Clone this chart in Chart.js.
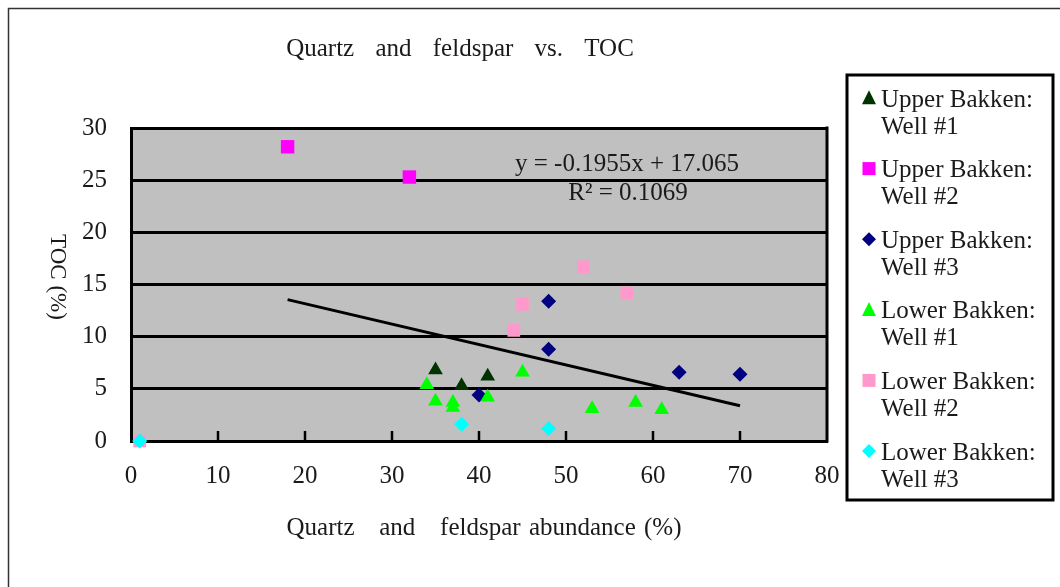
<!DOCTYPE html>
<html>
<head>
<meta charset="utf-8">
<title>Quartz and feldspar vs. TOC</title>
<script src="https://cdn.jsdelivr.net/npm/chart.js@4.4.1/dist/chart.umd.min.js"></script>
<style>
  html, body { margin: 0; padding: 0; background: #fff; }
  #wrap { width: 1060px; height: 587px; }
</style>
</head>
<body>
<div id="wrap"><canvas id="tocChart" width="1060" height="587"></canvas></div>
<script>
// values
const seriesNames = [
    'Upper Bakken: Well #1',
    'Upper Bakken: Well #2',
    'Upper Bakken: Well #3',
    'Lower Bakken: Well #1',
    'Lower Bakken: Well #2',
    'Lower Bakken: Well #3'
];

const ub1X = [35, 38, 41];
const ub1Y = [6.8, 5.3, 6.2];

const ub2X = [18, 32];
const ub2Y = [28.2, 25.3];

const ub3X = [48, 48, 40, 63, 70];
const ub3Y = [13.4, 8.8, 4.4, 6.6, 6.4];

const lb1X = [34, 35, 37, 37, 41, 45, 53, 58, 61];
const lb1Y = [5.4, 3.8, 3.7, 3.2, 4.2, 6.6, 3.1, 3.7, 3.0];

const lb2X = [52, 57, 45, 44, 1];
const lb2Y = [16.7, 14.2, 13.1, 10.6, 0];

const lb3X = [1, 38, 48];
const lb3Y = [0, 1.6, 1.2];

// linear trend line end points
const trendX = [18, 70];
const trendY = [13.55, 3.38];

const xTicks = [0, 10, 20, 30, 40, 50, 60, 70, 80];
const yTicks = [0, 5, 10, 15, 20, 25, 30];

const equationText = 'y = -0.1955x + 17.065';
const rSquaredText = 'R\u00B2 = 0.1069';

// look of each series
const seriesColors = ['#003300', '#ff00ff', '#000080', '#00ff00', '#ff99cc', '#00ffff'];
const seriesStyles = ['triangle', 'rect', 'rectRot', 'triangle', 'rect', 'rectRot'];
const seriesRadius = [8.5, 9.5, 7.5, 8.5, 9, 7.5];

const serif = '"Liberation Serif", "Times New Roman", serif';

function pts(xs, ys) {
    return xs.map((x, i) => ({ x: x, y: ys[i] }));
}

const seriesData = [
    pts(ub1X, ub1Y), pts(ub2X, ub2Y), pts(ub3X, ub3Y),
    pts(lb1X, lb1Y), pts(lb2X, lb2Y), pts(lb3X, lb3Y)
];

const datasets = seriesData.map((d, i) => ({
    label: seriesNames[i],
    data: d,
    pointStyle: seriesStyles[i],
    pointRadius: seriesRadius[i],
    pointBackgroundColor: seriesColors[i],
    pointBorderColor: seriesColors[i],
    pointBorderWidth: 0,
    showLine: false,
    clip: false,
    order: 6 - i
}));

datasets.push({
    label: 'Trend',
    data: pts(trendX, trendY),
    showLine: true,
    borderColor: '#000',
    borderWidth: 3,
    pointRadius: 0,
    order: 10
});

function drawMarker(ctx, style, x, y, s, color) {
    ctx.fillStyle = color;
    ctx.beginPath();
    if (style === 'triangle') {
        ctx.moveTo(x, y - s * 0.55);
        ctx.lineTo(x + s * 0.5, y + s * 0.45);
        ctx.lineTo(x - s * 0.5, y + s * 0.45);
    } else if (style === 'rect') {
        ctx.rect(x - s / 2, y - s / 2, s, s);
    } else {
        ctx.moveTo(x, y - s / 2);
        ctx.lineTo(x + s / 2, y);
        ctx.lineTo(x, y + s / 2);
        ctx.lineTo(x - s / 2, y);
    }
    ctx.closePath();
    ctx.fill();
}

const chartDecor = {
    id: 'chartDecor',
    beforeDraw(chart) {
        const ctx = chart.ctx;
        const a = chart.chartArea;
        ctx.save();
        ctx.fillStyle = '#fff';
        ctx.fillRect(0, 0, chart.width, chart.height);
        // outer frame of the figure
        ctx.strokeStyle = '#333';
        ctx.lineWidth = 1.5;
        ctx.strokeRect(8.5, 8.5, chart.width + 40, chart.height + 40);
        ctx.fillStyle = '#c0c0c0';
        ctx.fillRect(a.left, a.top, a.right - a.left, a.bottom - a.top);
        ctx.restore();
    },
    beforeDatasetsDraw(chart) {
        const ctx = chart.ctx;
        const a = chart.chartArea;
        const xs = chart.scales.x;
        ctx.save();
        ctx.strokeStyle = '#000';
        // right side of the plot box
        ctx.lineWidth = 3;
        ctx.beginPath();
        ctx.moveTo(a.right, a.top - 1.5);
        ctx.lineTo(a.right, a.bottom + 1.5);
        ctx.stroke();
        // inward tick marks on the x axis
        ctx.lineWidth = 2.5;
        xTicks.slice(1, -1).forEach(v => {
            const px = xs.getPixelForValue(v);
            ctx.beginPath();
            ctx.moveTo(px, a.bottom);
            ctx.lineTo(px, a.bottom - 10);
            ctx.stroke();
        });
        ctx.restore();
    },
    afterDraw(chart) {
        const ctx = chart.ctx;
        ctx.save();
        ctx.fillStyle = '#1a1a1a';
        ctx.textBaseline = 'middle';
        ctx.textAlign = 'center';

        // chart title
        ctx.font = '25px ' + serif;
        ctx.wordSpacing = '15px';
        ctx.fillText('Quartz and feldspar vs. TOC', 460, 49);

        // x axis title
        ctx.wordSpacing = '2px';
        ctx.fillText('Quartz   and   feldspar abundance (%)', 484, 528);
        ctx.wordSpacing = '0px';

        // y axis title, reading downward
        ctx.save();
        ctx.translate(57, 277);
        ctx.rotate(Math.PI / 2);
        ctx.font = '23px ' + serif;
        ctx.fillText('TOC (%)', 0, 0);
        ctx.restore();

        // trend line equation
        ctx.font = '25px ' + serif;
        ctx.fillText(equationText, 627, 164);
        ctx.fillText(rSquaredText, 628, 193);

        // legend box
        const box = { left: 847, top: 75, right: 1053, bottom: 500 };
        ctx.strokeStyle = '#000';
        ctx.lineWidth = 3;
        ctx.strokeRect(box.left, box.top, box.right - box.left, box.bottom - box.top);

        ctx.textAlign = 'left';
        ctx.font = '25px ' + serif;
        const step = 70.6;
        seriesNames.forEach((name, i) => {
            const y = 100 + i * step;
            const parts = name.split(': ');
            drawMarker(ctx, seriesStyles[i], 869, y - 2, seriesStyles[i] === 'rect' ? 13 : 14, seriesColors[i]);
            ctx.fillStyle = '#1a1a1a';
            ctx.fillText(parts[0] + ':', 881, y);
            ctx.fillText(parts[1], 881, y + 27);
        });
        ctx.restore();
    }
};

const ctx = document.getElementById('tocChart').getContext('2d');

const myChart = new Chart(ctx, {
    type: 'scatter',
    data: { datasets: datasets },
    options: {
        responsive: false,
        animation: false,
        devicePixelRatio: 1,
        layout: { padding: { left: 0, top: 128, right: 233, bottom: 0 } },
        plugins: {
            legend: { display: false },
            title: { display: false },
            tooltip: { enabled: false }
        },
        scales: {
            x: {
                type: 'linear',
                min: xTicks[0],
                max: xTicks[xTicks.length - 1],
                ticks: {
                    stepSize: 10,
                    color: '#1a1a1a',
                    font: { family: serif, size: 25 },
                    padding: 20,
                    maxRotation: 0
                },
                grid: { display: false, drawTicks: false },
                border: { display: true, color: '#000', width: 3 },
                afterFit: (scale) => { scale.height = 146; }
            },
            y: {
                min: yTicks[0],
                max: yTicks[yTicks.length - 1],
                ticks: {
                    stepSize: 5,
                    color: '#1a1a1a',
                    font: { family: serif, size: 25 },
                    padding: 24
                },
                grid: { color: '#000', lineWidth: 3, drawTicks: false },
                border: { display: true, color: '#000', width: 3 },
                afterFit: (scale) => { scale.width = 131; }
            }
        }
    },
    plugins: [chartDecor]
});
</script>
</body>
</html>
